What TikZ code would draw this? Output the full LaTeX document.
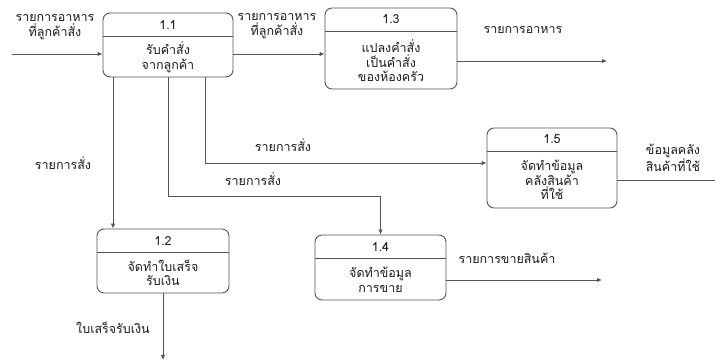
\documentclass[tikz,border=0pt]{standalone}
\usepackage{fontspec}
\setmainfont{Loma}[Script=Thai]
\usepackage{tikz}
\usetikzlibrary{arrows.meta,calc}
\definecolor{L0}{HTML}{555555}
\definecolor{T0}{HTML}{1A1A1A}
\tikzset{
  proc/.style={draw=L0, line width=0.9pt, rounded corners=7pt, inner sep=0pt},
  flow/.style={draw=L0, line width=0.9pt, -{Latex[length=5pt,width=4.5pt]}},
  txt/.style={text=T0, align=center, font=\fontsize{12.5}{14.5}\selectfont, inner sep=0pt},
}
\begin{document}
\begin{tikzpicture}[x=1pt, y=-1pt]%
\useasboundingbox (0,0) rectangle (715,363);%
\node[proc, minimum width=130pt, minimum height=64pt] (p11) at (168,45) {};%
\node[txt] (n11) at ($(p11.north)+(0,12)$) {1.1};%
\draw[L0, line width=0.9pt] ($(p11.north west)+(0,24)$) -- ($(p11.north east)+(0,24)$);%
\node[txt] (t11) at (168,57) {รับคำสั่ง\\จากลูกค้า};%
\node[proc, minimum width=132pt, minimum height=81pt] (p13) at (391,48.5) {};%
\node[txt] (n13) at ($(p13.north)+(0,12)$) {1.3};%
\draw[L0, line width=0.9pt] ($(p13.north west)+(0,24)$) -- ($(p13.north east)+(0,24)$);%
\node[txt] (t13) at (391,61) {แปลงคำสั่ง\\เป็นคำสั่ง\\ของห้องครัว};%
\node[proc, minimum width=130pt, minimum height=80pt] (p15) at (552,168) {};%
\node[txt] (n15) at ($(p15.north)+(0,12)$) {1.5};%
\draw[L0, line width=0.9pt] ($(p15.north west)+(0,24)$) -- ($(p15.north east)+(0,24)$);%
\node[txt] (t15) at (552,180) {จัดทำข้อมูล\\คลังสินค้า\\ที่ใช้};%
\node[proc, minimum width=132pt, minimum height=64pt] (p12) at (163,261) {};%
\node[txt] (n12) at ($(p12.north)+(0,12)$) {1.2};%
\draw[L0, line width=0.9pt] ($(p12.north west)+(0,24)$) -- ($(p12.north east)+(0,24)$);%
\node[txt] (t12) at (163,273) {จัดทำใบเสร็จ\\รับเงิน};%
\node[proc, minimum width=131pt, minimum height=65pt] (p14) at (380.5,267.5) {};%
\node[txt] (n14) at ($(p14.north)+(0,12)$) {1.4};%
\draw[L0, line width=0.9pt] ($(p14.north west)+(0,24)$) -- ($(p14.north east)+(0,24)$);%
\node[txt] (t14) at (380.5,280) {จัดทำข้อมูล\\การขาย};%
\coordinate (in1) at (12,54);%
\coordinate (out13) at (607,61);%
\coordinate (out15) at (715,180);%
\coordinate (out14) at (602,280);%
\coordinate (out12) at (163,360);%
\coordinate (bend14) at (380.5,196);%
\draw[flow] (in1) -- (in1 -| p11.west);%
\draw[flow] (p11.east |- in1) -- (p13.west |- in1);%
\draw[flow] (p13.east |- out13) -- (out13);%
\draw[flow] ([xshift=-55pt]p11.south) -- ([xshift=-55pt]p11.south |- p12.north);%
\draw[flow] (p11.south) |- (bend14) -- (p14.north);%
\draw[flow] ([xshift=37pt]p11.south) |- ([yshift=5pt]p15.west);%
\draw[L0, line width=0.9pt] (p15.east |- out15) -- (out15);%
\draw[flow] (p14.east |- out14) -- (out14);%
\draw[flow] (p12.south) -- (out12);%
\node[txt] (l1) at (55,27) {รายการอาหาร\\ที่ลูกค้าสั่ง};%
\node[txt] (l2) at (277,26) {รายการอาหาร\\ที่ลูกค้าสั่ง};%
\node[txt] (l3) at (523,30) {รายการอาหาร};%
\node[txt] (l4) at (63,163) {รายการสั่ง};%
\node[txt] (l5) at (283,145) {รายการสั่ง};%
\node[txt] (l6) at (253,179) {รายการสั่ง};%
\node[txt] (l7) at (673,158) {ข้อมูลคลัง\\สินค้าที่ใช้};%
\node[txt] (l8) at (507,258) {รายการขายสินค้า};%
\node[txt] (l9) at (113,328) {ใบเสร็จรับเงิน};%
\end{tikzpicture}
\end{document}
